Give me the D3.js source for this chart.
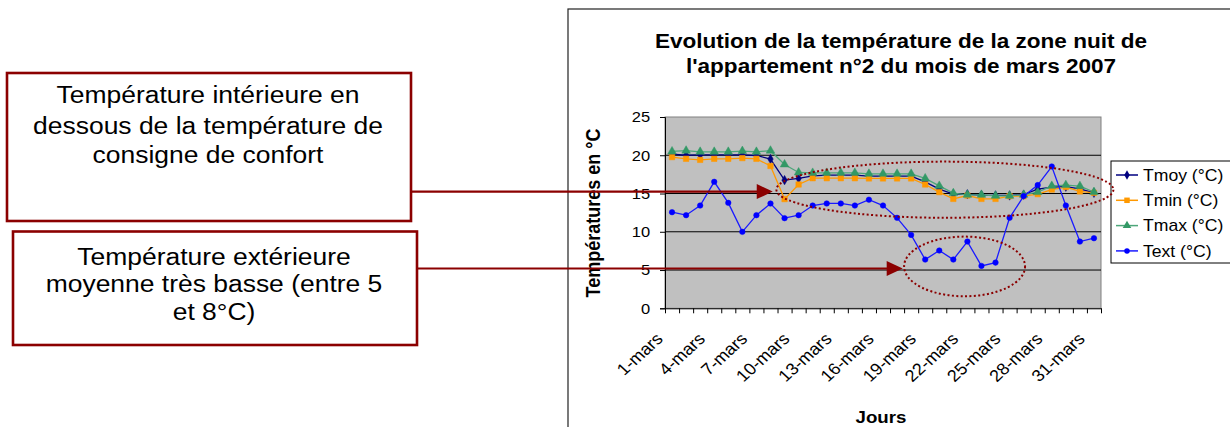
<!DOCTYPE html>
<html><head><meta charset="utf-8">
<script src="https://cdn.jsdelivr.net/npm/d3@7"></script>
<style>
html,body{margin:0;padding:0;background:#fff;}
svg{display:block;font-family:Arial,"Liberation Sans",sans-serif;}
</style></head>
<body><svg id="c" width="1230" height="427"></svg>
<script>
// ---------- data ----------
const days = ["1-mars","2-mars","3-mars","4-mars","5-mars","6-mars","7-mars","8-mars","9-mars","10-mars",
  "11-mars","12-mars","13-mars","14-mars","15-mars","16-mars","17-mars","18-mars","19-mars","20-mars",
  "21-mars","22-mars","23-mars","24-mars","25-mars","26-mars","27-mars","28-mars","29-mars","30-mars","31-mars"];
const xLabels = ["1-mars","4-mars","7-mars","10-mars","13-mars","16-mars","19-mars","22-mars","25-mars","28-mars","31-mars"];
const tmoy = [20.15,20.0,20.05,20.05,20.05,20.05,19.97,19.5,16.75,16.97,17.3,17.4,17.4,17.4,
  17.28,17.28,17.28,17.28,16.53,15.57,14.92,14.9,14.8,14.75,14.75,14.85,15.57,15.84,15.9,15.6,15.09];
const tmin = [19.76,19.54,19.4,19.54,19.54,19.63,19.54,18.6,14.27,16.18,17.0,17.0,17.0,17.0,
  16.97,16.97,16.97,16.97,16.18,15.18,14.3,14.74,14.3,14.3,14.66,14.66,14.92,15.52,15.84,15.27,15.09];
const tmax = [20.5,20.6,20.45,20.45,20.45,20.55,20.45,20.6,18.8,17.75,17.7,17.7,17.7,17.7,
  17.58,17.58,17.58,17.58,16.97,16.0,15.05,14.83,14.83,14.7,14.7,14.83,15.18,16.0,16.1,15.97,15.2];
const text = [12.56,12.17,13.43,16.53,13.78,9.99,12.17,13.69,11.78,12.17,13.43,13.7,13.7,13.43,
  14.2,13.43,11.82,9.59,6.37,7.55,6.37,8.72,5.54,5.97,11.82,14.66,16.1,18.53,13.43,8.72,9.16];
const seriesNames = ["Tmoy (°C)","Tmin (°C)","Tmax (°C)","Text (°C)"];
const yTicks = [0,5,10,15,20,25];
const titleLines = ["Evolution de la température de la zone nuit de","l'appartement n°2 du mois de mars 2007"];
const box1Lines = ["Température intérieure en","dessous de la température de","consigne de confort"];
const box2Lines = ["Température extérieure","moyenne très basse (entre 5","et 8°C)"];
// annotation anchors in data units (day index, °C)
const arrow1 = {day:8.16, value:15.25};
const arrow2 = {day:17.4, value:5.2};
const ellipse1 = {day:20.4, value:15.5, rDays:11.98, rValue:3.67};
const ellipse2 = {day:21.8, value:5.47, rDays:4.3, rValue:3.9};

// ---------- layout ----------
const SX = 1.1; // horizontal stretch of text
const svg = d3.select("#c");
const P = {l:665, r:1101, t:117, b:308.3};
const x = d3.scaleBand().domain(days).range([P.l,P.r]).padding(0);
const cx = d => x(d) + x.bandwidth()/2;
const xl = d3.scaleLinear().domain([1,31]).range([cx(days[0]), cx(days[30])]);
const xb = d3.scaleLinear().domain([0,days.length]).range([P.l,P.r]);
const y = d3.scaleLinear().domain([0,25]).range([P.b,P.t]);
const red = "#8B0000";

// chart outer border
svg.append("rect").attr("x",568).attr("y",9).attr("width",700).attr("height",460)
  .attr("fill","#fff").attr("stroke","#222").attr("stroke-width",1.2);

// title
titleLines.forEach((t,i)=>{
  svg.append("text").attr("transform",`translate(901,${48+i*25}) scale(${SX},1)`)
    .attr("text-anchor","middle").attr("font-weight","bold").attr("font-size",20.5).attr("fill","#000").text(t);
});

// plot area
svg.append("rect").attr("x",P.l).attr("y",P.t).attr("width",P.r-P.l).attr("height",P.b-P.t)
  .attr("fill","#C0C0C0").attr("stroke","#808080").attr("stroke-width",1);
svg.append("g").selectAll("line").data(yTicks.filter(v=>v>0 && v<25)).join("line")
  .attr("x1",P.l).attr("x2",P.r).attr("y1",d=>y(d)).attr("y2",d=>y(d))
  .attr("stroke","#000").attr("stroke-width",1);

// y axis
const ya = svg.append("g").attr("transform",`translate(${P.l},0)`)
  .call(d3.axisLeft(y).tickValues(yTicks).tickSize(5).tickPadding(8.6));
ya.select(".domain").attr("stroke","#000");
ya.selectAll("line").attr("stroke","#000");
ya.selectAll("text").attr("font-size",15).attr("fill","#000").attr("font-family","Arial, 'Liberation Sans', sans-serif")
  .attr("transform",`scale(${SX},1)`);

// x axis (ticks between categories)
const xa = svg.append("g").attr("transform",`translate(0,${P.b})`)
  .call(d3.axisBottom(xb).tickValues(d3.range(days.length+1)).tickFormat("").tickSize(5).tickSizeOuter(0));
xa.select(".domain").attr("stroke","#000");
xa.selectAll("line").attr("stroke","#000");
svg.append("g").selectAll("text").data(xLabels).join("text")
  .attr("transform",d=>`translate(${cx(d)-8},340) scale(${SX},1) rotate(-45)`)
  .attr("text-anchor","end").attr("font-size",16.5).attr("fill","#000").text(d=>d);

// axis titles
svg.append("text").attr("transform",`translate(593,213) scale(${SX},1) rotate(-90)`)
  .attr("text-anchor","middle").attr("dy","0.35em").attr("font-weight","bold").attr("font-size",18).text("Températures en °C");
svg.append("text").attr("transform",`translate(881,423) scale(${SX},1)`)
  .attr("text-anchor","middle").attr("font-weight","bold").attr("font-size",17).text("Jours");

// series
const series = [
  {name:seriesNames[0], vals:tmoy, color:"#000080", line:"#000080", sym:d3.symbolDiamond, size:26},
  {name:seriesNames[1], vals:tmin, color:"#FF9900", line:"#FF9900", sym:d3.symbolSquare, size:30},
  {name:seriesNames[2], vals:tmax, color:"#339966", line:"#4DA67A", sym:d3.symbolTriangle, size:32},
  {name:seriesNames[3], vals:text, color:"#0000FF", line:"#1A1AFF", sym:d3.symbolCircle, size:24}
];
const lineGen = d3.line().x((d,i)=>cx(days[i])).y(d=>y(d));
series.forEach(s=>{
  const g = svg.append("g");
  g.append("path").datum(s.vals).attr("d",lineGen).attr("fill","none").attr("stroke",s.line).attr("stroke-width",1.3);
  g.selectAll("path.m").data(s.vals).join("path").attr("class","m")
    .attr("transform",(d,i)=>`translate(${cx(days[i])},${y(d)})`)
    .attr("d",d3.symbol().type(s.sym).size(s.size)).attr("fill",s.color).attr("stroke",s.color).attr("stroke-width",0.5);
});

// legend
svg.append("rect").attr("x",1111).attr("y",161).attr("width",140).attr("height",102)
  .attr("fill","#fff").attr("stroke","#000").attr("stroke-width",1);
series.forEach((s,i)=>{
  const ly = 175 + i*25.3;
  svg.append("line").attr("x1",1116).attr("x2",1138).attr("y1",ly).attr("y2",ly).attr("stroke",s.line).attr("stroke-width",1.5);
  svg.append("path").attr("transform",`translate(1127,${ly})`).attr("d",d3.symbol().type(s.sym).size(s.size)).attr("fill",s.color);
  svg.append("text").attr("transform",`translate(1143,${ly}) scale(${SX},1)`).attr("dy","0.36em")
    .attr("font-size",16).attr("fill","#000").text(s.name);
});

// annotation boxes
function box(x0,y0,w,h,lines,baselines,cxText){
  svg.append("rect").attr("x",x0).attr("y",y0).attr("width",w).attr("height",h)
    .attr("fill","#fff").attr("stroke",red).attr("stroke-width",2.6);
  lines.forEach((t,i)=>{
    svg.append("text").attr("transform",`translate(${cxText},${baselines[i]}) scale(1.08,1)`)
      .attr("text-anchor","middle").attr("font-size",24.5).attr("fill","#000").text(t);
  });
}
box(7,73,404,148,box1Lines,[103,134,163],208);
box(13,231.5,404,113.5,box2Lines,[265,292,320],214);

// arrows
function arrow(xs, a){
  const ay = y(a.value), tip = xl(a.day);
  svg.append("line").attr("x1",xs).attr("x2",tip-15).attr("y1",ay).attr("y2",ay).attr("stroke",red).attr("stroke-width",2.2);
  svg.append("path").attr("d",`M${tip},${ay} L${tip-16},${ay-7.5} L${tip-16},${ay+7.5} Z`).attr("fill",red);
}
arrow(411, arrow1);
arrow(417, arrow2);

// dotted ellipses
[ellipse1, ellipse2].forEach(e=>{
  svg.append("ellipse").attr("cx",xl(e.day)).attr("cy",y(e.value))
    .attr("rx",xl(e.day+e.rDays)-xl(e.day)).attr("ry",y(e.value-e.rValue)-y(e.value))
    .attr("fill","none").attr("stroke",red).attr("stroke-width",2).attr("stroke-dasharray","2,2.4");
});
</script></body></html>
